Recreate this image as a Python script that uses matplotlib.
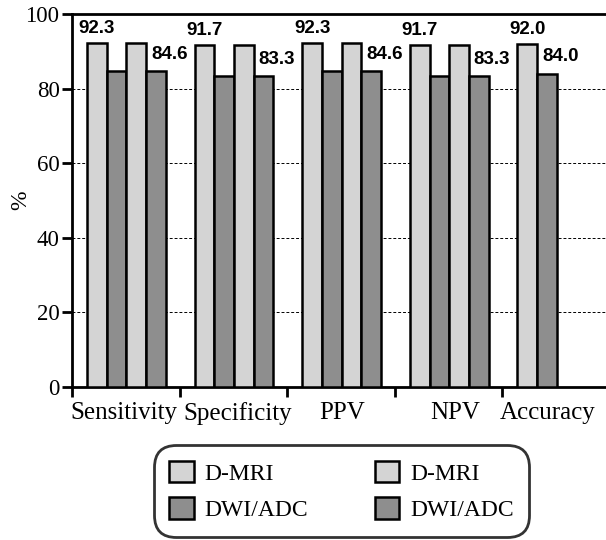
import matplotlib
matplotlib.use("Agg")
import matplotlib.pyplot as plt
import matplotlib.transforms as mtransforms
import numpy as np
from matplotlib.patches import Patch

categories = ["Sensitivity", "Specificity", "PPV", "NPV", "Accuracy"]
series_names = ["D-MRI", "DWI/ADC", "D-MRI", "DWI/ADC"]
# one list per bar slot, None where the group has no bar
dmri_1 = [92.3, 91.7, 92.3, 91.7, 92.0]
dwi_1 = [84.6, 83.3, 84.6, 83.3, 84.0]
dmri_2 = [92.3, 91.7, 92.3, 91.7, None]
dwi_2 = [84.6, 83.3, 84.6, 83.3, None]
series = [dmri_1, dwi_1, dmri_2, dwi_2]

light = "#d4d4d4"
dark = "#8e8e8e"
colors = [light, dark, light, dark]

plt.rcParams["font.family"] = ["Liberation Serif", "DejaVu Serif"]

fig = plt.figure(figsize=(6.06, 5.40), dpi=100)
ax = fig.add_axes([72 / 606, 1 - 387 / 540, 538 / 606, 373 / 540])

bar_w = 0.183
start = 0.14
for k, vals in enumerate(series):
    for i, v in enumerate(vals):
        if v is None:
            continue
        x = i + start + k * bar_w
        ax.bar(x, v, width=bar_w, align="edge", color=colors[k],
               edgecolor="black", linewidth=1.8, zorder=3)

# value labels: first bar and last bar of each group
for i in range(len(categories)):
    vals = [s[i] for s in series if s[i] is not None]
    n = len(vals)
    x_first = i + start + 0.5 * bar_w
    x_last = i + start + (n - 0.5) * bar_w
    ax.annotate(f"{vals[0]:.1f}", (x_first, vals[0]), xytext=(0, 4),
                textcoords="offset points", ha="center", va="bottom",
                fontsize=13.5, fontweight="bold", family="Liberation Sans")
    ax.annotate(f"{vals[-1]:.1f}", (x_last, vals[-1]), xytext=(9.5, 6),
                textcoords="offset points", ha="center", va="bottom",
                fontsize=13.5, fontweight="bold", family="Liberation Sans")

ax.set_xlim(0, len(categories))
ax.set_ylim(0, 100)
ax.set_yticks(np.arange(0, 101, 20))
ax.tick_params(axis="y", direction="out", length=7, width=2, labelsize=16.5, pad=2)
for y in [20, 40, 60, 80]:
    ax.axhline(y, color="black", linestyle=(0, (3, 2)), linewidth=0.7, zorder=1)

ax.set_xticks(np.arange(0, len(categories) + 1))
ax.set_xticklabels([])
ax.tick_params(axis="x", which="major", direction="out", length=7, width=2)
ax.set_xticks(np.arange(len(categories)) + 0.5, minor=True)
ax.set_xticklabels(categories, minor=True, fontsize=18)
ax.tick_params(axis="x", which="minor", length=0, pad=11)
# nudge category labels sideways (pixels) as in the original
label_shift = [-2, 4, 1, 7, -9]
for lab, dx in zip(ax.get_xticklabels(minor=True), label_shift):
    lab.set_transform(lab.get_transform() + mtransforms.ScaledTranslation(dx / 100, 0, fig.dpi_scale_trans))

for sp in ["left", "bottom", "top"]:
    ax.spines[sp].set_linewidth(2)
ax.spines["right"].set_visible(False)

ax.set_ylabel("%", fontsize=17)
ax.yaxis.set_label_coords(-0.075, 0.5)

handles = [Patch(facecolor=colors[k], edgecolor="black", linewidth=1.8) for k in range(4)]
leg = fig.legend(handles, series_names, loc="center", bbox_to_anchor=(341.5 / 606, 1 - 491 / 540),
                 ncol=2, fontsize=17, frameon=True, fancybox=True, columnspacing=2.8,
                 handlelength=1.05, handleheight=1.05, handletextpad=0.45, labelspacing=0.55,
                 borderpad=0.62, edgecolor="black")
leg.get_frame().set_linewidth(2)
leg.get_frame().set_boxstyle("round,pad=0.02,rounding_size=0.9")

fig.savefig("out.png", dpi=100)
